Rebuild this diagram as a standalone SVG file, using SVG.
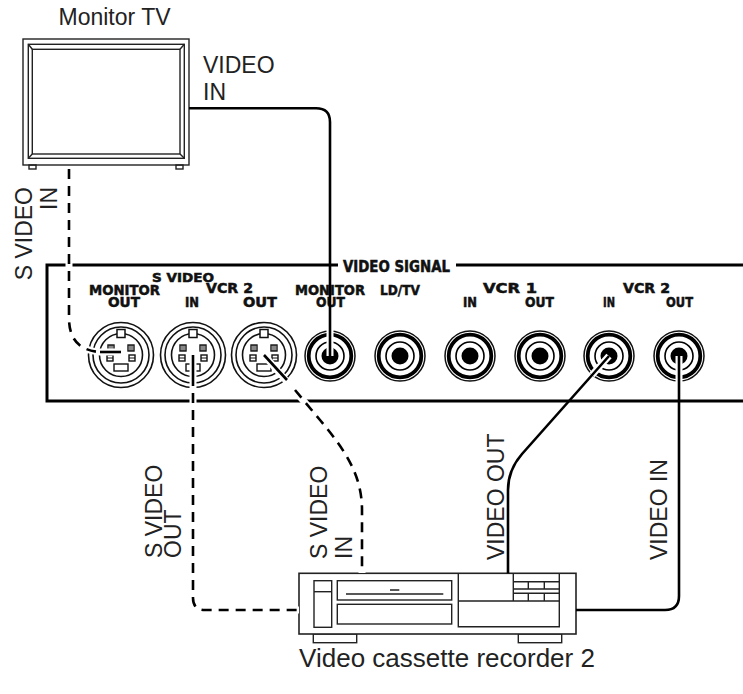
<svg xmlns="http://www.w3.org/2000/svg" width="743" height="694" viewBox="0 0 743 694">
<defs>
<style>
.lbl{font-family:"Liberation Sans",Arial,sans-serif;font-size:23px;fill:#222}
.pl{font-family:"DejaVu Sans","Liberation Sans",sans-serif;font-weight:bold;font-size:14px;fill:#111;stroke:#111;stroke-width:0.55}
.thin{fill:none;stroke:#222;stroke-width:1.4}
.cab{fill:none;stroke:#000;stroke-width:2.6}
.dash{fill:none;stroke:#000;stroke-width:2.6;stroke-dasharray:10 7}
.halo{fill:none;stroke:#fff;stroke-width:7}
.frame{fill:none;stroke:#000;stroke-width:3}
</style>
<g id="sjack">
<circle r="32.5" fill="#fff" stroke="#111" stroke-width="1.6"/>
<circle r="28" fill="none" stroke="#111" stroke-width="1.6"/>
<circle r="21.5" fill="none" stroke="#111" stroke-width="1.6"/>
<rect x="-4" y="-25.5" width="8" height="8" fill="#fff" stroke="#111" stroke-width="1.5"/>
<g fill="#fff" stroke="#111" stroke-width="1.4">
<rect x="-13" y="-10" width="6" height="6"/><rect x="7" y="-10" width="6" height="6"/>
<rect x="-14" y="0" width="6" height="6"/><rect x="8" y="0" width="6" height="6"/>
<rect x="-7" y="9" width="14" height="7"/>
</g>
<g stroke="#111" stroke-width="1">
<path d="M-11,-10 V-4 M-9,-10 V-4 M9,-10 V-4 M11,-10 V-4 M-14,3 H-8 M8,3 H14"/>
</g>
</g>
<g id="rjack">
<circle r="25" fill="#fff" stroke="#111" stroke-width="1.5"/>
<circle r="21.3" fill="none" stroke="#000" stroke-width="3.8"/>
<circle r="14" fill="none" stroke="#000" stroke-width="1.6"/>
<circle r="8.5" fill="#000"/>
</g>
</defs>
<rect width="743" height="694" fill="#fff"/>

<g id="monitor-tv">
<text class="lbl" x="114.5" y="25" text-anchor="middle">Monitor TV</text>
<rect class="thin" x="23" y="39" width="166" height="126" stroke-width="1.6"/>
<rect class="thin" x="28.3" y="44.3" width="156" height="114"/>
<rect class="thin" x="32.3" y="49.3" width="147.7" height="104.7"/>
<path class="thin" d="M28.3,44.3 L32.3,49.3 M184.3,44.3 L180,49.3 M28.3,158.3 L32.3,154 M184.3,158.3 L180,154"/>
<rect class="thin" x="29" y="165" width="7" height="4"/>
<rect class="thin" x="176" y="165" width="7" height="4"/>
<text class="lbl" x="203" y="72.7">VIDEO</text>
<text class="lbl" x="203" y="100">IN</text>
<text class="lbl" transform="translate(31.5,187) rotate(-90)" text-anchor="end">S VIDEO</text>
<text class="lbl" transform="translate(56.5,187) rotate(-90)" text-anchor="end">IN</text>
</g>

<g id="panel">
<rect x="47" y="265" width="700" height="136" fill="#fff"/>
<text class="pl" x="152" y="282" textLength="62" lengthAdjust="spacingAndGlyphs" style="font-size:12.5px">S VIDEO</text>
<text class="pl" x="89" y="295" textLength="71" lengthAdjust="spacingAndGlyphs">MONITOR</text>
<text class="pl" x="108" y="307" textLength="32" lengthAdjust="spacingAndGlyphs">OUT</text>
<text class="pl" x="206" y="293" textLength="47" lengthAdjust="spacingAndGlyphs">VCR 2</text>
<text class="pl" x="185" y="307" textLength="14" lengthAdjust="spacingAndGlyphs">IN</text>
<text class="pl" x="243" y="307" textLength="34" lengthAdjust="spacingAndGlyphs">OUT</text>
<text class="pl" x="343" y="271.5" textLength="107" lengthAdjust="spacingAndGlyphs" style="font-size:15.5px">VIDEO SIGNAL</text>
<text class="pl" x="295" y="295" textLength="70" lengthAdjust="spacingAndGlyphs">MONITOR</text>
<text class="pl" x="316" y="307" textLength="29" lengthAdjust="spacingAndGlyphs">OUT</text>
<text class="pl" x="380" y="295" textLength="40" lengthAdjust="spacingAndGlyphs">LD/TV</text>
<text class="pl" x="483" y="293" textLength="54" lengthAdjust="spacingAndGlyphs">VCR 1</text>
<text class="pl" x="463" y="307" textLength="14" lengthAdjust="spacingAndGlyphs">IN</text>
<text class="pl" x="525" y="307" textLength="29" lengthAdjust="spacingAndGlyphs">OUT</text>
<text class="pl" x="623" y="293" textLength="47" lengthAdjust="spacingAndGlyphs">VCR 2</text>
<text class="pl" x="603" y="307" textLength="12" lengthAdjust="spacingAndGlyphs">IN</text>
<text class="pl" x="666" y="307" textLength="27" lengthAdjust="spacingAndGlyphs">OUT</text>
<use href="#sjack" x="121" y="355"/>
<use href="#sjack" x="193" y="355"/>
<use href="#sjack" x="264" y="355"/>
<use href="#rjack" x="330" y="356"/>
<use href="#rjack" x="400" y="356"/>
<use href="#rjack" x="470" y="356"/>
<use href="#rjack" x="540" y="356"/>
<use href="#rjack" x="609" y="356"/>
<use href="#rjack" x="679" y="356"/>
</g>

<g id="vcr2">
<rect class="thin" x="313.3" y="634" width="43.4" height="8.7"/>
<rect class="thin" x="518.3" y="634" width="43.4" height="8.7"/>
<rect x="299" y="573.3" width="277" height="60.7" fill="#fff" stroke="#222" stroke-width="1.6"/>
<rect class="thin" x="314" y="580.7" width="17.7" height="46.6"/>
<path class="thin" d="M314,591.7 H331.7"/>
<rect class="thin" x="337.3" y="580.7" width="114.4" height="19.3"/>
<path class="thin" d="M346,594 H443.3 M390,590 H399.3"/>
<rect class="thin" x="337.3" y="604.3" width="114.4" height="19.7"/>
<path class="thin" d="M458.3,573.3 V626.7 H559.3 V573.3 M458.3,601 H559.3 M513.3,573.3 V601 M513.3,581.7 H559.3 M513.3,589 H559.3 M513.3,593.3 H559.3 M528.3,581.7 V589 M544.3,581.7 V589 M528.3,593.3 V601 M544.3,593.3 V601"/>
<text class="lbl" x="447" y="667" text-anchor="middle" style="font-size:26px">Video cassette recorder 2</text>
</g>

<g id="connectors">
<path class="halo" d="M330,330 V356" stroke-width="5"/>
<path class="halo" d="M592,375 L609,356" stroke-width="5"/>
<path class="halo" d="M679,356 V382" stroke-width="5"/>
<path class="frame" d="M338,265 H47 V401 H743 M456,265 H743"/>
<path class="halo" d="M69,169 V318 Q69,350 100,352 L121,352"/>
<path class="halo" d="M193,355 V598 Q193,610 205,610 H299"/>
<path class="halo" d="M264,355 L320,420 C345,450 362,475 362,510 V573"/>
<path class="cab" d="M189,108.3 H316 Q330,108.3 330,122 V356"/>
<path class="dash" d="M69,169 V318 Q69,350 100,352"/>
<path class="cab" d="M100,352 L121,352"/>
<path class="cab" d="M193,355 V386"/>
<path class="dash" d="M193,393 V598 Q193,610 205,610 H299"/>
<path class="cab" d="M264,355 L287,380"/>
<path class="dash" d="M295,390 L320,420 C345,450 362,475 362,510 V573"/>
<path class="cab" d="M508,573.3 V490 Q508,470 522,454 L609,356"/>
<path class="cab" d="M679,356 V596 Q679,610 665,610 H576"/>
</g>

<g id="cable-labels">
<text class="lbl" transform="translate(161.5,558) rotate(-90)">S VIDEO</text>
<text class="lbl" transform="translate(180.5,558) rotate(-90)">OUT</text>
<text class="lbl" transform="translate(326.5,559) rotate(-90)">S VIDEO</text>
<text class="lbl" transform="translate(351.5,559) rotate(-90)">IN</text>
<text class="lbl" transform="translate(503.5,560) rotate(-90)">VIDEO OUT</text>
<text class="lbl" transform="translate(666.5,560) rotate(-90)">VIDEO IN</text>
</g>
</svg>
